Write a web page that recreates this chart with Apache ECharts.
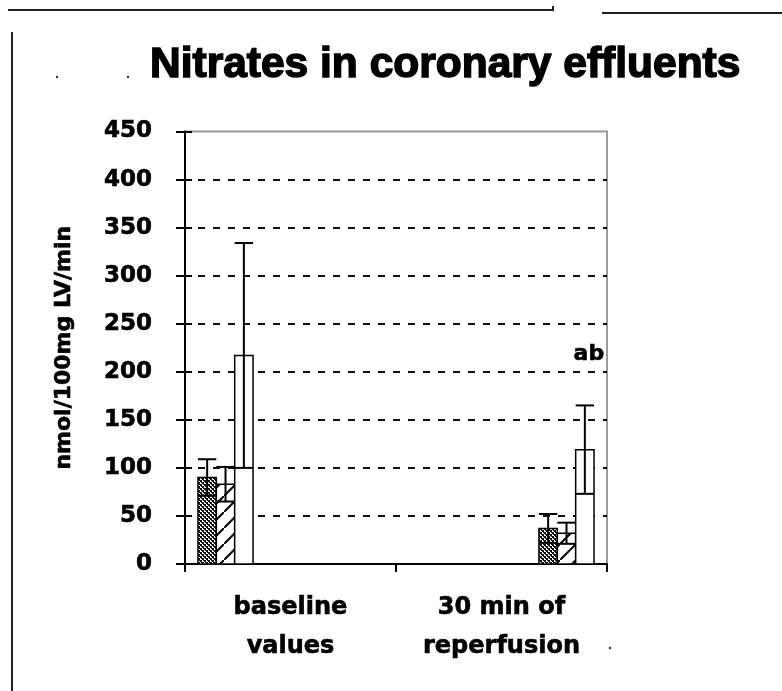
<!DOCTYPE html>
<html>
<head>
<meta charset="utf-8">
<script src="https://cdn.jsdelivr.net/npm/echarts@6/dist/echarts.min.js"></script>
<style>
  html, body { margin: 0; padding: 0; background: #fff; }
  #chart { width: 782px; height: 691px; }
</style>
</head>
<body>
<div id="chart"></div>
<script>
// values (mean and SD, nmol/100mg LV/min)
const categories = ["baseline\nvalues", "30 min of\nreperfusion"];
const dottedMean = [90, 37];
const dottedSd = [19, 15];
const hatchedMean = [83, 32];
const hatchedSd = [18, 11];
const openMean = [217, 119];
const openSd = [117, 46];
const notes = ["", "ab"];
const noteLevel = [0, 218];
const yTicks = [0, 50, 100, 150, 200, 250, 300, 350, 400, 450];

const groupShift = 0.308; // groups sit off the category centre, as in the original
const barFrac = 0.087;

// fill patterns
function dotPattern() {
  const c = document.createElement("canvas");
  c.width = 4;
  c.height = 4;
  const g = c.getContext("2d");
  g.fillStyle = "#fff";
  g.fillRect(0, 0, 4, 4);
  g.fillStyle = "#111";
  g.fillRect(0, 0, 2, 2);
  g.fillRect(2, 2, 2, 2);
  g.fillRect(1, 2, 1, 1);
  g.fillRect(3, 0, 1, 1);
  return { image: c, repeat: "repeat" };
}

function hatchPattern() {
  const c = document.createElement("canvas");
  c.width = 16;
  c.height = 16;
  const g = c.getContext("2d");
  g.fillStyle = "#fff";
  g.fillRect(0, 0, 16, 16);
  g.strokeStyle = "#000";
  g.lineWidth = 2;
  g.beginPath();
  g.moveTo(-2, 18);
  g.lineTo(18, -2);
  g.stroke();
  return { image: c, repeat: "repeat" };
}

function makeRender(slot, fill, withNotes) {
  return function (params, api) {
    const idx = api.value(0);
    const mean = api.value(1);
    const sd = api.value(2);
    const band = api.size([1, 0])[0];
    const centre = api.coord([idx, 0])[0] + (idx === 0 ? -1 : 1) * band * groupShift;
    const bw = band * barFrac;
    const x0 = centre + (slot - 1.5) * bw;
    const xm = x0 + bw / 2;
    const yBase = api.coord([idx, 0])[1];
    const yMean = api.coord([idx, mean])[1];
    const yHi = api.coord([idx, mean + sd])[1];
    const yLo = api.coord([idx, mean - sd])[1];
    const line = { stroke: "#000", lineWidth: 2 };
    const children = [
      {
        type: "rect",
        shape: { x: x0, y: yMean, width: bw, height: yBase - yMean },
        style: { fill: fill, stroke: "#000", lineWidth: 1.5 }
      },
      { type: "line", shape: { x1: xm, y1: yHi, x2: xm, y2: yLo }, style: line },
      { type: "line", shape: { x1: x0, y1: yHi, x2: x0 + bw, y2: yHi }, style: line },
      { type: "line", shape: { x1: x0, y1: yLo, x2: x0 + bw, y2: yLo }, style: line }
    ];
    if (withNotes && notes[idx]) {
      const yn = api.coord([idx, noteLevel[idx]])[1];
      children.push({
        type: "text",
        x: xm + 4,
        y: yn,
        style: {
          text: notes[idx],
          fill: "#000",
          stroke: "#000",
          lineWidth: 0.6,
          font: "bold 22px 'DejaVu Sans'",
          align: "center",
          verticalAlign: "middle"
        }
      });
    }
    return { type: "group", children: children };
  };
}

function seriesData(means, sds) {
  return categories.map((c, i) => [i, means[i], sds[i]]);
}

const chart = echarts.init(document.getElementById("chart"));

const axisFont = {
  color: "#000",
  fontFamily: "DejaVu Sans",
  fontWeight: "bold",
  textBorderColor: "#000",
  textBorderWidth: 0.6
};

chart.setOption({
  backgroundColor: "#fff",
  animation: false,
  title: {
    text: "Nitrates in coronary effluents",
    left: 145,
    top: 39,
    textStyle: {
      color: "#000",
      fontFamily: "Liberation Sans",
      fontWeight: "bold",
      fontSize: 42.5,
      textBorderColor: "#000",
      textBorderWidth: 1.5
    }
  },
  grid: {
    left: 185,
    top: 131.5,
    right: 175,
    bottom: 127,
    show: true,
    borderColor: "#9a9a9a",
    borderWidth: 2,
    backgroundColor: "#fff"
  },
  xAxis: {
    type: "category",
    data: categories,
    boundaryGap: true,
    axisLine: { lineStyle: { color: "#000", width: 2 } },
    axisTick: { show: true, length: 8, lineStyle: { color: "#000", width: 2 } },
    axisLabel: Object.assign({ interval: 0, fontSize: 24, lineHeight: 39, margin: 24 }, axisFont),
    splitLine: { show: false }
  },
  yAxis: [
    {
      type: "value",
      min: yTicks[0],
      max: yTicks[yTicks.length - 1],
      interval: yTicks[1] - yTicks[0],
      name: "nmol/100mg LV/min",
      nameLocation: "middle",
      nameRotate: 90,
      nameGap: 110,
      nameTextStyle: Object.assign({ fontSize: 22 }, axisFont),
      axisLine: { show: true, lineStyle: { color: "#000", width: 2 } },
      axisTick: { show: true, length: 9, lineStyle: { color: "#000", width: 2 } },
      axisLabel: Object.assign({ fontSize: 23, margin: 33 }, axisFont),
      splitLine: {
        show: true,
        showMinLine: false,
        showMaxLine: false,
        lineStyle: { color: "#111", width: 2, type: [7, 8], dashOffset: 2 }
      }
    },
    {
      type: "value",
      min: yTicks[0],
      max: yTicks[yTicks.length - 1],
      interval: yTicks[1] - yTicks[0],
      position: "left",
      axisLine: { show: false },
      axisTick: { show: true, inside: true, length: 7, lineStyle: { color: "#000", width: 2 } },
      axisLabel: { show: false },
      splitLine: { show: false }
    }
  ],
  series: [
    {
      type: "custom",
      name: "dotted",
      renderItem: makeRender(0, dotPattern(), false),
      encode: { x: 0, y: 1 },
      data: seriesData(dottedMean, dottedSd),
      z: 3
    },
    {
      type: "custom",
      name: "hatched",
      renderItem: makeRender(1, hatchPattern(), false),
      encode: { x: 0, y: 1 },
      data: seriesData(hatchedMean, hatchedSd),
      z: 3
    },
    {
      type: "custom",
      name: "open",
      renderItem: makeRender(2, "#fff", true),
      encode: { x: 0, y: 1 },
      data: seriesData(openMean, openSd),
      z: 3
    }
  ],
  // page edges and specks from the scanned slide
  graphic: [
    { type: "line", shape: { x1: 8, y1: 10, x2: 553, y2: 10 }, style: { stroke: "#222", lineWidth: 2 } },
    { type: "line", shape: { x1: 553, y1: 6, x2: 553, y2: 11 }, style: { stroke: "#222", lineWidth: 2 } },
    { type: "line", shape: { x1: 602, y1: 13, x2: 782, y2: 13 }, style: { stroke: "#222", lineWidth: 2 } },
    { type: "line", shape: { x1: 12, y1: 32, x2: 12, y2: 691 }, style: { stroke: "#222", lineWidth: 2 } },
    { type: "circle", shape: { cx: 57, cy: 77, r: 1.2 }, style: { fill: "#333" } },
    { type: "circle", shape: { cx: 128, cy: 77, r: 1.2 }, style: { fill: "#333" } },
    { type: "circle", shape: { cx: 610, cy: 648, r: 1.2 }, style: { fill: "#333" } }
  ]
});
</script>
</body>
</html>
